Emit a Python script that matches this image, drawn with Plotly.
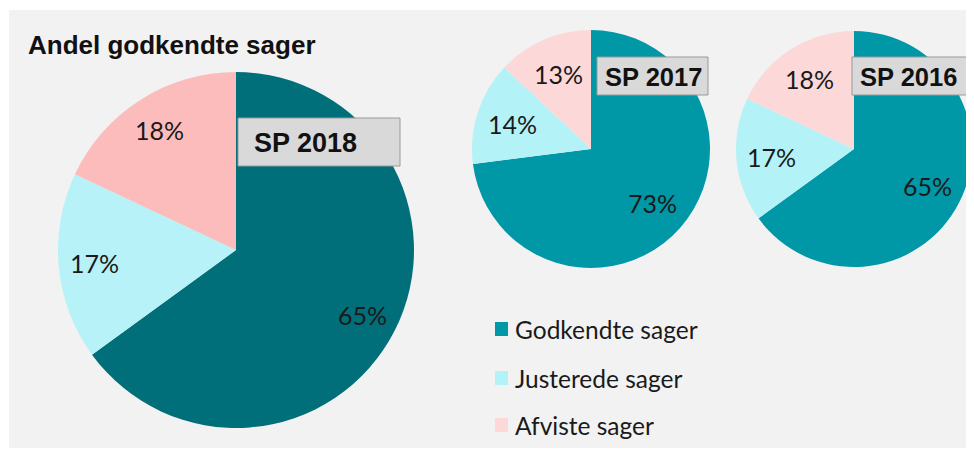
import math
import plotly.graph_objects as go

# page has an 8px body margin; figure is placed at (8, 8)
OFF = 8
W, H = 966, 444

categories = ["Godkendte sager", "Justerede sager", "Afviste sager"]
years = ["SP 2018", "SP 2017", "SP 2016"]
values_2018 = [65, 17, 18]
values_2017 = [73, 14, 13]
values_2016 = [65, 17, 18]

colors_big = ["#006f7a", "#b6f2f7", "#fdbcbc"]
colors_small = ["#0097a6", "#b3f2f7", "#fcd8d8"]

def px(x):
    return (x - OFF) / W

def py(y):
    return 1 - (y - OFF) / H

# pie geometry in page pixels: (cx, cy, r, label radius factor)
pies = [
    (values_2018, colors_big, 236, 250, 178, 0.80, years[0], (238, 118, 400, 166), 252, 27),
    (values_2017, colors_small, 591, 149, 119, 0.69, years[1], (597, 57, 708, 95), 603, 25.5),
    (values_2016, colors_small, 854, 149, 118, 0.70, years[2], (852, 57, 973, 95), 858, 25.5),
]

fig = go.Figure()
shapes = [dict(type="rect", xref="paper", yref="paper", x0=px(9), x1=px(974),
               y0=py(448), y1=py(10), fillcolor="#f2f2f2", line=dict(width=0),
               layer="below")]
annotations = [dict(text="<b>Andel godkendte sager</b>", x=px(26), y=py(45),
                    xref="paper", yref="paper", xanchor="left", yanchor="middle",
                    showarrow=False,
                    font=dict(family="Liberation Sans", size=26, color="#111111"))]

for vals, cols, cx, cy, r, k, yr, box, tx, fs in pies:
    fig.add_trace(go.Pie(
        labels=categories, values=vals, sort=False, direction="clockwise",
        rotation=0, marker=dict(colors=cols, line=dict(width=0)),
        textinfo="none", hoverinfo="label+percent", showlegend=False,
        domain=dict(x=[px(cx - r), px(cx + r)], y=[py(cy + r), py(cy - r)]),
    ))
    total = sum(vals)
    cum = 0
    for v in vals:
        frac = (cum + v / 2) / total
        cum += v
        th = 2 * math.pi * frac
        lx = cx + math.sin(th) * k * r
        ly = cy - math.cos(th) * k * r
        annotations.append(dict(text=f"{round(100 * v / total)}%", x=px(lx), y=py(ly),
                                xref="paper", yref="paper", showarrow=False,
                                xanchor="center", yanchor="middle",
                                font=dict(family="Lato", size=25, color="#1a1a1a")))
    x0, y0, x1, y1 = box
    shapes.append(dict(type="rect", xref="paper", yref="paper", x0=px(x0), x1=px(x1),
                       y0=py(y1), y1=py(y0), fillcolor="#d9d9d9",
                       line=dict(color="#9a9a9a", width=1), layer="above"))
    annotations.append(dict(text=f"<b>{yr}</b>", x=px(tx), y=py((y0 + y1) / 2 + 1),
                            xref="paper", yref="paper", showarrow=False,
                            xanchor="left", yanchor="middle",
                            font=dict(family="Liberation Sans", size=fs, color="#111111")))

# manual legend
legend_rows = [329, 378, 425]
for cat, col, ry in zip(categories, colors_small, legend_rows):
    shapes.append(dict(type="rect", xref="paper", yref="paper", x0=px(495), x1=px(508),
                       y0=py(ry + 7), y1=py(ry - 7), fillcolor=col, line=dict(width=0)))
    annotations.append(dict(text=cat, x=px(513), y=py(ry), xref="paper", yref="paper",
                            showarrow=False, xanchor="left", yanchor="middle",
                            font=dict(family="Lato", size=24.5, color="#1a1a1a")))

fig.update_layout(width=W, height=H, margin=dict(l=0, r=0, t=0, b=0),
                  paper_bgcolor="white", plot_bgcolor="white",
                  shapes=shapes, annotations=annotations, showlegend=False)

fig.write_html("out.html")
